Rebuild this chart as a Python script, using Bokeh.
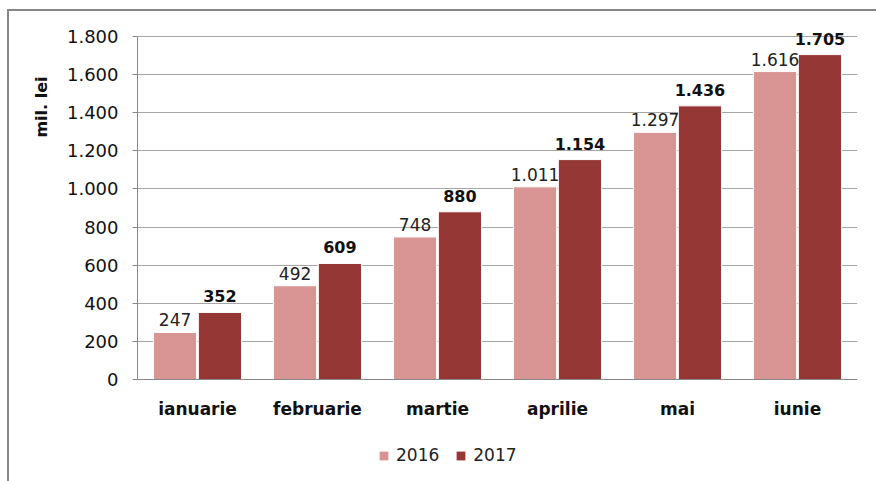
from bokeh.plotting import figure
from bokeh.layouts import column
from bokeh.models import ColumnDataSource, FixedTicker, Legend, LegendItem, Title
from bokeh.core.properties import value
from bokeh.transform import dodge
from bokeh.embed import file_html
from bokeh.resources import INLINE

months = ["ianuarie", "februarie", "martie", "aprilie", "mai", "iunie"]
v2016 = [247, 492, 748, 1011, 1297, 1616]
v2017 = [352, 609, 880, 1154, 1436, 1705]
series = ["2016", "2017"]
yticks = [0, 200, 400, 600, 800, 1000, 1200, 1400, 1600, 1800]

def fmt(v):
    return f"{v:,}".replace(",", ".")

src = ColumnDataSource(dict(
    m=months, a=v2016, b=v2017,
    la=[fmt(v) for v in v2016], lb=[fmt(v) for v in v2017],
))

FONT = "DejaVu Sans"
C16 = "#D99594"
C17 = "#953735"

# page offsets (border + margin)
OX, OY = 9, 11
FRAME_TOP, AXIS_TOP, FRAME_BOTTOM = 22, 36, 379
YMAX = 1800 * (FRAME_BOTTOM - FRAME_TOP) / (FRAME_BOTTOM - AXIS_TOP)

p = figure(x_range=months, y_range=(0, YMAX), width=876 - OX, height=440 - OY,
           output_backend="svg", toolbar_location=None,
           min_border_left=137 - OX, min_border_right=19, min_border_top=FRAME_TOP - OY,
           min_border_bottom=440 - FRAME_BOTTOM)

r1 = p.vbar(x=dodge("m", -0.187, range=p.x_range), top="a", width=0.36, source=src,
            fill_color=C16, line_color="white", line_width=1)
r2 = p.vbar(x=dodge("m", 0.187, range=p.x_range), top="b", width=0.36, source=src,
            fill_color=C17, line_color="white", line_width=1)

p.text(x=dodge("m", -0.187, range=p.x_range), y="a", text="la", source=src,
       text_align="center", text_baseline="bottom", y_offset=-6,
       text_font=value(FONT), text_font_size="17px", text_color="#222222")
p.text(x=dodge("m", 0.187, range=p.x_range), y="b", text="lb", source=src,
       text_align="center", text_baseline="bottom", y_offset=-10,
       text_font=value(FONT), text_font_size="16px", text_font_style="bold",
       text_color="#111111")

p.outline_line_color = None
p.xgrid.grid_line_color = None
p.ygrid.grid_line_color = "#A6A6A6"
p.ygrid.ticker = FixedTicker(ticks=yticks)

p.yaxis.ticker = FixedTicker(ticks=yticks)
p.yaxis.bounds = (0, 1800)
p.yaxis.major_label_overrides = {t: fmt(t) for t in yticks}
p.yaxis.major_label_text_font = FONT
p.yaxis.major_label_text_font_size = "18px"
p.yaxis.major_label_text_color = "#111111"
p.yaxis.axis_line_color = "#888888"
p.yaxis.major_tick_line_color = "#888888"
p.yaxis.major_tick_in = 0
p.yaxis.major_tick_out = 5
p.yaxis.minor_tick_line_color = None
p.yaxis.major_label_standoff = 14

p.xaxis.axis_line_color = "#888888"
p.xaxis.major_tick_line_color = None
p.xaxis.major_label_text_font = FONT
p.xaxis.major_label_text_font_size = "17px"
p.xaxis.major_label_text_font_style = "bold"
p.xaxis.major_label_text_color = "#111111"
p.xaxis.major_label_standoff = 13

ytitle = Title(text="mil. lei", align="right", offset=40 + (AXIS_TOP - FRAME_TOP),
               text_font=FONT, text_font_size="16px", text_font_style="bold",
               text_color="#111111")
try:
    ytitle.standoff = 26
except AttributeError:
    pass
p.add_layout(ytitle, "left")

# legend strip below the chart (its frame is aligned with the chart's frame)
p2 = figure(x_range=(0, 1), y_range=(0, 1), width=876 - OX, height=41,
            output_backend="svg", toolbar_location=None,
            x_axis_location=None, y_axis_location=None,
            min_border=0, outline_line_color=None)
p2.grid.visible = False
g1 = p2.vbar(x=[-10], top=[0], bottom=[0], width=0.1, fill_color=C16, line_color=None)
g2 = p2.vbar(x=[-10], top=[0], bottom=[0], width=0.1, fill_color=C17, line_color=None)
legend = Legend(items=[LegendItem(label=series[0], renderers=[g1]),
                       LegendItem(label=series[1], renderers=[g2])],
                orientation="horizontal", location=(380 - 137 - 2, 16),
                label_text_font=FONT, label_text_font_size="17px", label_text_color="#222222",
                glyph_width=11, glyph_height=11, label_standoff=7, spacing=16,
                border_line_color=None, background_fill_alpha=0, margin=0, padding=2)
p2.add_layout(legend, "center")

lay = column(p, p2, margin=(OY - 2, 0, 0, OX - 2), spacing=0,
             styles={"border-left": "2px solid #878787", "border-top": "2px solid #878787"})

open("out.html", "w").write(file_html(lay, INLINE))
